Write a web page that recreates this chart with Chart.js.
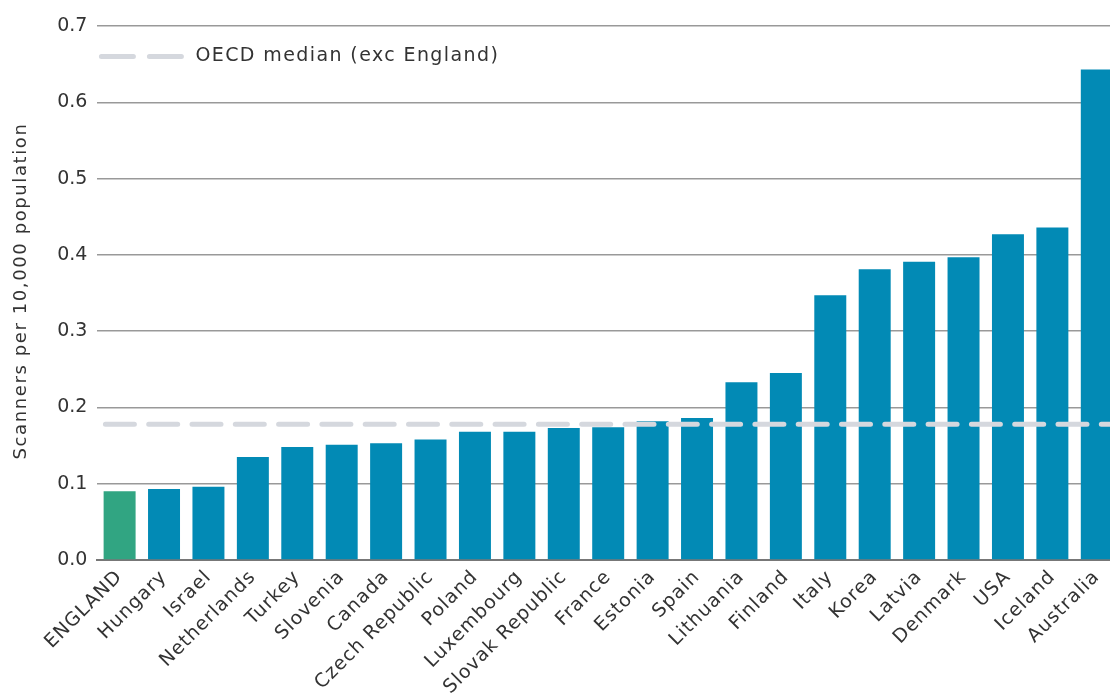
<!DOCTYPE html>
<html>
<head>
<meta charset="utf-8">
<script src="https://cdn.jsdelivr.net/npm/chart.js@4"></script>
<style>
  html, body { margin: 0; padding: 0; background: #fff; overflow: hidden; }
  #wrap { width: 1120px; height: 693px; }
</style>
</head>
<body>
<div id="wrap"><canvas id="chart"></canvas></div>
<script>
// countries, lowest to highest
const countries = ['ENGLAND', 'Hungary', 'Israel', 'Netherlands', 'Turkey', 'Slovenia', 'Canada',
  'Czech Republic', 'Poland', 'Luxembourg', 'Slovak Republic', 'France', 'Estonia', 'Spain',
  'Lithuania', 'Finland', 'Italy', 'Korea', 'Latvia', 'Denmark', 'USA', 'Iceland', 'Australia'];

// scanners per 10,000 population
const scanners = [0.090, 0.093, 0.096, 0.135, 0.148, 0.151, 0.153,
  0.158, 0.168, 0.168, 0.173, 0.174, 0.182, 0.186,
  0.233, 0.245, 0.347, 0.381, 0.391, 0.397, 0.427, 0.436, 0.643];

const oecdMedian = 0.178;
const medianLabel = 'OECD median (exc England)';
const yTitle = 'Scanners per 10,000 population';
const yTicks = [0, 0.1, 0.2, 0.3, 0.4, 0.5, 0.6, 0.7];

const BLUE = '#028ab5';
const GREEN = '#31a582';
const MEDIAN_GREY = '#d5d8de';
const TEXT = '#333333';
const FONT = '"DejaVu Sans", sans-serif';

// dashed median line across the whole plot, the legend at the top and the y title
const medianPlugin = {
  id: 'medianLine',
  beforeDraw(chart) {
    chart.ctx.letterSpacing = '0px';
  },
  afterDatasetsDraw(chart) {
    const { ctx, chartArea, scales } = chart;
    const y = scales.y.getPixelForValue(oecdMedian);
    ctx.save();
    ctx.strokeStyle = MEDIAN_GREY;
    ctx.lineWidth = 5;
    ctx.lineCap = 'round';
    ctx.setLineDash([29, 14.3]);
    ctx.beginPath();
    ctx.moveTo(chartArea.left + 8, y);
    ctx.lineTo(chartArea.right, y);
    ctx.stroke();

    // legend
    const ly = scales.y.getPixelForValue(0.66);
    ctx.setLineDash([32, 16]);
    ctx.beginPath();
    ctx.moveTo(chartArea.left + 4, ly);
    ctx.lineTo(chartArea.left + 84, ly);
    ctx.stroke();
    ctx.setLineDash([]);
    ctx.fillStyle = TEXT;
    ctx.font = '19px ' + FONT;
    ctx.letterSpacing = '1.4px';
    ctx.textBaseline = 'middle';
    ctx.textAlign = 'left';
    ctx.fillText(medianLabel, chartArea.left + 98, ly);

    // y axis title
    ctx.font = '18px ' + FONT;
    ctx.letterSpacing = '1.6px';
    ctx.translate(21, (chartArea.top + chartArea.bottom) / 2 - 2);
    ctx.rotate(-Math.PI / 2);
    ctx.textAlign = 'center';
    ctx.fillText(yTitle, 0, 0);
    ctx.restore();

    // x labels (drawn next, z 1) are a touch wider in the original face
    ctx.letterSpacing = '1px';
  }
};

const ctx = document.getElementById('chart').getContext('2d');
new Chart(ctx, {
  type: 'bar',
  data: {
    labels: countries,
    datasets: [{
      data: scanners,
      backgroundColor: countries.map(c => c === 'ENGLAND' ? GREEN : BLUE),
      categoryPercentage: 1,
      barPercentage: 0.72
    }]
  },
  options: {
    responsive: true,
    maintainAspectRatio: false,
    animation: false,
    layout: { padding: { top: 26, right: 1, left: 0, bottom: 0 } },
    plugins: {
      legend: { display: false },
      tooltip: { enabled: false }
    },
    scales: {
      x: {
        grid: { display: false, drawTicks: false },
        border: { display: true, color: '#777777', width: 2 },
        ticks: {
          color: TEXT,
          font: { family: FONT, size: 19 },
          minRotation: 45,
          maxRotation: 45,
          autoSkip: false,
          padding: 6,
          z: 1
        },
        afterFit(scale) { scale.height = 133; }
      },
      y: {
        min: 0,
        max: 0.7,
        afterBuildTicks(scale) { scale.ticks = yTicks.map(v => ({ value: v })); },
        grid: { color: '#999999', lineWidth: 1.5, drawTicks: false },
        border: { display: false },
        ticks: {
          color: TEXT,
          font: { family: FONT, size: 19 },
          padding: 10,
          callback: v => v.toFixed(1)
        },
        afterFit(scale) { scale.width = 97.4; }
      }
    }
  },
  plugins: [medianPlugin]
});
</script>
</body>
</html>
